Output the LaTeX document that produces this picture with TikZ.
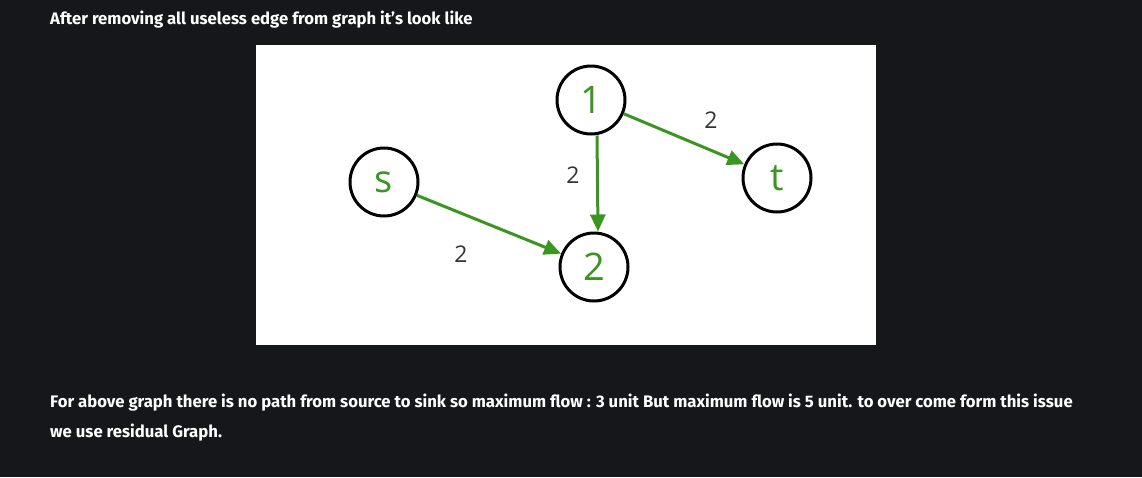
\documentclass[tikz,border=0pt]{standalone}
\usepackage{fontspec}
\usepackage{xcolor}
\usetikzlibrary{arrows.meta}
\setmainfont{Fira Sans}
\newfontfamily\graphfont{Open Sans}
\definecolor{pageColor}{HTML}{16171B}
\definecolor{flowGreen}{HTML}{3A9620}
\definecolor{labelGray}{HTML}{333333}

\begin{document}
\begin{tikzpicture}[x=1pt, y=-1pt,
    vertex/.style={circle, draw=black, line width=3pt, minimum size=68pt, inner sep=0pt,
        text=flowGreen, font=\graphfont\fontsize{38}{44}\selectfont},
    flow/.style={draw=flowGreen, line width=3pt, -{Triangle[length=17pt, width=15pt]}},
    weight/.style={text=labelGray, font=\graphfont\fontsize{23}{28}\selectfont},
    para/.style={anchor=west, inner sep=0pt, text=white, font=\bfseries\fontsize{16.7}{20}\selectfont}]
    \fill[pageColor] (0,0) rectangle (1142,477);
    \useasboundingbox (0,0) rectangle (1142,477);
    \node[para] (head) at (50,20) {After removing all useless edge from graph it’s look like};
    \fill[white] (256,45) rectangle (876,345);
    \node[vertex] (s) at (384,182) {s};
    \node[vertex] (one) at (591,100) {1};
    \node[vertex] (two) at (594,267) {2};
    \node[vertex] (t) at (777,178) {t};
    \draw[flow] (s) -- (two);
    \draw[flow] ([xshift=6pt]one.south) -- ([xshift=4pt]two.north);
    \draw[flow] (one) -- (t);
    \node[weight] (w1) at (461,254) {2};
    \node[weight] (w2) at (573,175) {2};
    \node[weight] (w3) at (711,120) {2};
    \node[para] (foot) at (50,403) {For above graph there is no path from source to sink so maximum flow : 3 unit But maximum flow is 5 unit. to over come form this issue};
    \node[para] (foot2) at (50,433) {we use residual Graph.};
\end{tikzpicture}
\end{document}
